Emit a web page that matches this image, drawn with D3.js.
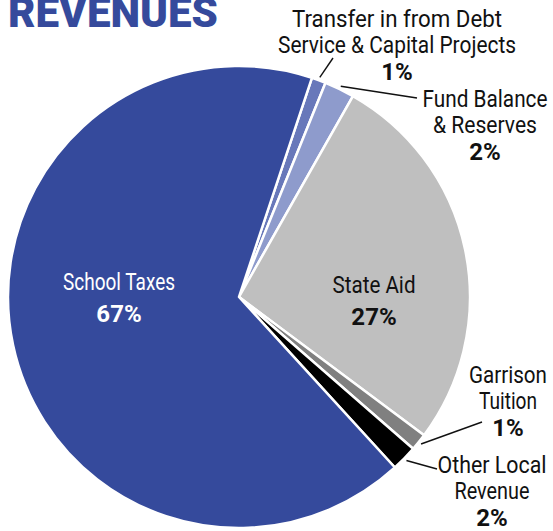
<!DOCTYPE html>
<html>
<head>
<meta charset="utf-8">
<script src="https://cdn.jsdelivr.net/npm/d3@7"></script>
<style>
  html, body { margin: 0; padding: 0; background: #fff; }
  svg { display: block; }
  text { font-family: Roboto, "Noto Sans", sans-serif; }
</style>
</head>
<body>
<div id="chart"></div>
<script>
const categories = [
  "Transfer in from Debt Service & Capital Projects",
  "Fund Balance & Reserves",
  "State Aid",
  "Garrison Tuition",
  "Other Local Revenue",
  "School Taxes",
];
const values = [1.0, 2.1, 27.0, 1.2, 1.8, 66.9];
const percentLabels = ["1%", "2%", "27%", "1%", "2%", "67%"];
const colors = ["#6878ba", "#8e9bcc", "#bfbfbf", "#808080", "#000000", "#354a9c"];

// label layout: lines of the name, anchor point, fitted widths, leader end (or null)
const labelLayout = [
  { lines: ["Transfer in from Debt", "Service & Capital Projects"], x: 397, y: 27, widths: [210, 238], leader: [333, 58], fill: "#111" },
  { lines: ["Fund Balance", "& Reserves"], x: 485, y: 107, widths: [125, 104], leader: [417, 98], fill: "#111" },
  { lines: ["State Aid"], x: 374, y: 293, widths: [83], leader: null, fill: "#111" },
  { lines: ["Garrison", "Tuition"], x: 508, y: 383, widths: [78, 58], leader: [482, 422], fill: "#111" },
  { lines: ["Other Local", "Revenue"], x: 492, y: 473, widths: [109, 75], leader: [437, 469], fill: "#111" },
  { lines: ["School Taxes"], x: 119, y: 290, widths: [112], leader: null, fill: "#fff" },
];

const width = 553;
const height = 531;
const cx = 239;
const cy = 297;
const radius = 231;
const lineH = 26.3;

const svg = d3
  .select("#chart")
  .append("svg")
  .attr("width", width)
  .attr("height", height);

// title, cut off at the top like the source
svg
  .append("text")
  .attr("x", 8)
  .attr("y", 27)
  .attr("font-size", 42)
  .attr("font-weight", 900)
  .attr("fill", "#354a9c")
  .attr("textLength", 210)
  .attr("lengthAdjust", "spacingAndGlyphs")
  .text("REVENUES");

const data = categories.map((c, i) => ({
  name: c,
  value: values[i],
  pct: percentLabels[i],
  color: colors[i],
  layout: labelLayout[i],
}));

const startAngle = (18.4 * Math.PI) / 180;
const pie = d3
  .pie()
  .sort(null)
  .value((d) => d.value)
  .startAngle(startAngle)
  .endAngle(startAngle + 2 * Math.PI);

const arcs = pie(data);
const arc = d3.arc().innerRadius(0).outerRadius(radius);
const leaderArc = d3.arc().innerRadius(234).outerRadius(234);

const g = svg.append("g").attr("transform", `translate(${cx},${cy})`);

g.selectAll(".slice")
  .data(arcs)
  .join("path")
  .attr("class", "slice")
  .attr("d", arc)
  .attr("fill", (d) => d.data.color)
  .attr("stroke", "#fff")
  .attr("stroke-width", 2.5)
  .attr("stroke-linejoin", "round");

// leader lines
svg
  .selectAll(".leader")
  .data(arcs.filter((d) => d.data.layout.leader))
  .join("line")
  .attr("class", "leader")
  .attr("x1", (d) => cx + leaderArc.centroid(d)[0])
  .attr("y1", (d) => cy + leaderArc.centroid(d)[1])
  .attr("x2", (d) => d.data.layout.leader[0])
  .attr("y2", (d) => d.data.layout.leader[1])
  .attr("stroke", "#111")
  .attr("stroke-width", 1.4);

// labels
const label = svg
  .selectAll(".label")
  .data(data)
  .join("text")
  .attr("class", "label")
  .attr("text-anchor", "middle")
  .attr("font-size", 24)
  .attr("fill", (d) => d.layout.fill);

label.each(function (d) {
  const t = d3.select(this);
  d.layout.lines.forEach((line, i) => {
    t.append("tspan")
      .attr("x", d.layout.x)
      .attr("y", d.layout.y + i * lineH)
      .attr("textLength", d.layout.widths[i])
      .attr("lengthAdjust", "spacingAndGlyphs")
      .text(line);
  });
  t.append("tspan")
    .attr("x", d.layout.x)
    .attr("y", d.layout.y + d.layout.lines.length * lineH + (d.layout.lines.length === 1 ? 5.5 : 0))
    .attr("font-weight", 700)
    .text(d.pct);
});
</script>
</body>
</html>
